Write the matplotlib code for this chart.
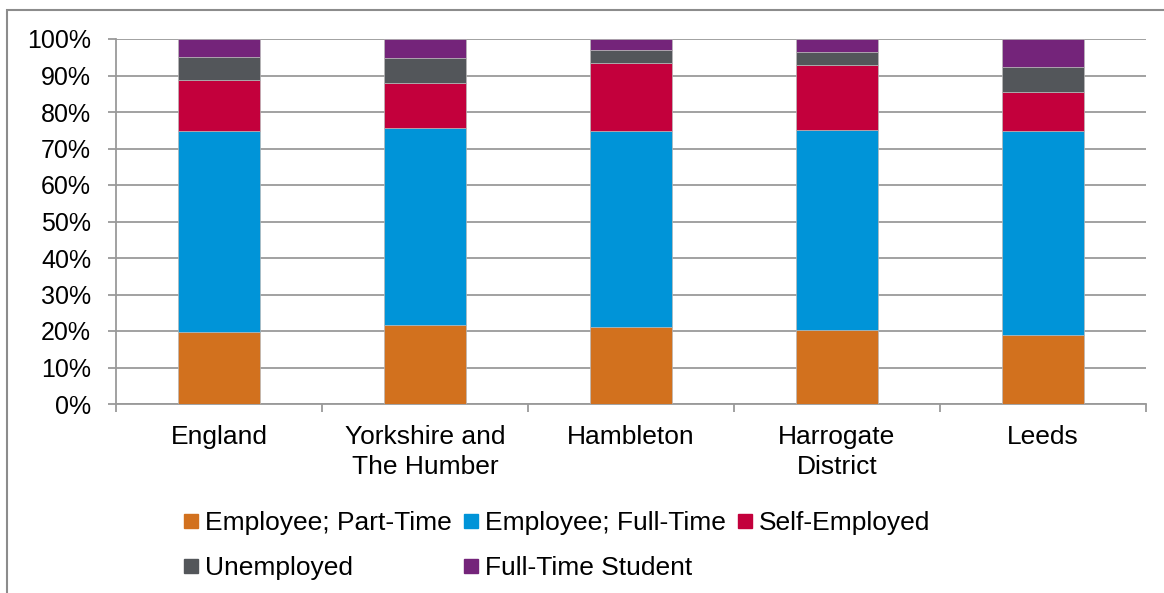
import matplotlib.pyplot as plt
import numpy as np
from matplotlib.lines import Line2D
from matplotlib.patches import Rectangle
from matplotlib.ticker import PercentFormatter

plt.rcParams['font.family'] = ['Liberation Sans', 'DejaVu Sans']

regions = ['England', 'Yorkshire and\nThe Humber', 'Hambleton', 'Harrogate\nDistrict', 'Leeds']
series = ['Employee; Part-Time', 'Employee; Full-Time', 'Self-Employed',
          'Unemployed', 'Full-Time Student']
part_time = [19.6, 21.6, 21.0, 20.2, 18.8]
full_time = [55.3, 53.9, 53.8, 54.9, 56.0]
self_emp = [13.9, 12.5, 18.5, 17.9, 10.7]
unemployed = [6.3, 6.8, 3.6, 3.4, 6.9]
student = [4.9, 5.2, 3.1, 3.6, 7.6]
colors = ['#D2711E', '#0094D8', '#C3003C', '#53565A', '#74247A']

data = [part_time, full_time, self_emp, unemployed, student]

fig = plt.figure(figsize=(11.64, 5.93), dpi=100)
ax = fig.add_axes([116/1164, 1 - 404/593, 1030/1164, 365/593])

x = np.arange(len(regions))
bottom = np.zeros(len(regions))
for vals, c, name in zip(data, colors, series):
    ax.bar(x, vals, 0.40, bottom=bottom, color=c, edgecolor='#b8b8b8',
           linewidth=0.5, label=name, zorder=3)
    bottom += np.array(vals)

ax.set_xlim(-0.5, len(regions) - 0.5)
ax.set_ylim(0, 100)
ax.set_yticks(np.arange(0, 101, 10))
ax.yaxis.set_major_formatter(PercentFormatter(decimals=0))
ax.grid(axis='y', color='#9a9a9a', linewidth=1.3, zorder=0)

ax.set_xticks(x)
ax.set_xticklabels(regions, fontsize=19, linespacing=1.3)
ax.set_xticks(np.arange(-0.5, len(regions)), minor=True)
ax.tick_params(axis='x', which='major', length=0, pad=15)
ax.tick_params(axis='x', which='minor', length=6, width=1.3, color='#9a9a9a')
ax.tick_params(axis='y', labelsize=18, length=6, width=1.3, color='#9a9a9a', pad=12)

for s in ['top', 'right']:
    ax.spines[s].set_visible(False)
for s in ['left', 'bottom']:
    ax.spines[s].set_color('#9a9a9a')
    ax.spines[s].set_linewidth(1.3)

handles = [Line2D([], [], marker='s', linestyle='', markersize=10.5,
                  markerfacecolor=c, markeredgecolor=c) for c in colors]
order = [0, 3, 1, 4, 2]
fig.legend([handles[i] for i in order], [series[i] for i in order],
           ncol=3, loc='upper left', bbox_to_anchor=(184/1164, 1 - 511/593),
           frameon=False, fontsize=19, handlelength=0.55, handletextpad=0.25,
           columnspacing=0.45, labelspacing=0.8, borderpad=0, borderaxespad=0)

fig.patches.append(Rectangle((7/1164, -0.1), 1.2, 1.1 - 10/593,
                             transform=fig.transFigure, fill=False,
                             edgecolor='#8c8c8c', linewidth=1.5))

fig.savefig('out.png', dpi=100)
